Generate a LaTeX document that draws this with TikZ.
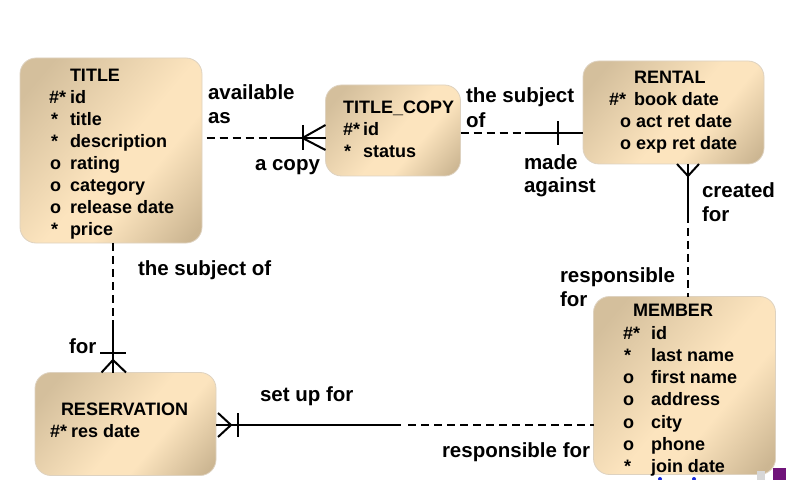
\documentclass[tikz,border=0pt]{standalone}
\usepackage{fontspec}
\setmainfont{Liberation Sans}
\usetikzlibrary{calc,shadings}
\definecolor{tanlight}{RGB}{252,228,190}
\definecolor{tandark}{RGB}{212,191,156}
\definecolor{tandarker}{RGB}{204,182,146}
\definecolor{tanedge}{RGB}{222,210,192}
\definecolor{artpurple}{RGB}{112,20,122}
\definecolor{artgray}{RGB}{215,215,215}
\definecolor{artblue}{RGB}{20,40,220}
\pgfdeclarehorizontalshading{tanband}{100bp}{color(0bp)=(tandark); color(22bp)=(tandark); color(52bp)=(tanlight); color(62bp)=(tanlight); color(82bp)=(tandarker); color(100bp)=(tandarker)}
\begin{document}
\begin{tikzpicture}[x=1bp,y=-1bp,
  entity/.style={draw=tanedge, line width=0.8bp, rounded corners=16bp, anchor=north west,
    inner sep=0pt, outer sep=0pt, shading=tanband, shading angle=-40},
  etext/.style={anchor=base west, inner sep=0pt, outer sep=0pt,
    font=\fontsize{18bp}{22bp}\selectfont\bfseries},
  ltext/.style={anchor=base west, inner sep=0pt, outer sep=0pt,
    font=\fontsize{20.5bp}{25bp}\selectfont\bfseries},
  rel/.style={line width=2bp, black},
  dashrel/.style={line width=2bp, black, dash pattern=on 8bp off 5bp},
]
\useasboundingbox (0,0) rectangle (809,480);

% ---------- entities ----------
\node[entity, minimum width=182bp, minimum height=185bp] (title) at (20,58) {};
\node[entity, minimum width=135bp, minimum height=91bp] (copy) at (325.5,85) {};
\node[entity, minimum width=181bp, minimum height=103bp] (rental) at (583,61) {};
\node[entity, minimum width=182bp, minimum height=178bp] (member) at (593.5,296.5) {};
\node[entity, minimum width=181bp, minimum height=103bp] (resv) at (35,372.5) {};

% TITLE
\node[etext] (tH) at (70,82) {TITLE};
\node[etext] (tS1) at (49,104) {\#*};  \node[etext] (tN1) at (70,104) {id};
\node[etext] (tS2) at (51,126) {*};    \node[etext] (tN2) at (70,126) {title};
\node[etext] (tS3) at (51,148) {*};    \node[etext] (tN3) at (70,148) {description};
\node[etext] (tS4) at (50,170) {o};    \node[etext] (tN4) at (70,170) {rating};
\node[etext] (tS5) at (50,192) {o};    \node[etext] (tN5) at (70,192) {category};
\node[etext] (tS6) at (50,214) {o};    \node[etext] (tN6) at (70,214) {release date};
\node[etext] (tS7) at (51,236) {*};    \node[etext] (tN7) at (70,236) {price};

% TITLE_COPY
\node[etext] (cH) at (343,114) {TITLE\_COPY};
\node[etext] (cS1) at (343,136) {\#*}; \node[etext] (cN1) at (363,136) {id};
\node[etext] (cS2) at (344,158) {*};   \node[etext] (cN2) at (363,158) {status};

% RENTAL
\node[etext] (rH) at (634,84) {RENTAL};
\node[etext] (rS1) at (609,106) {\#*}; \node[etext] (rN1) at (634,106) {book date};
\node[etext] (rS2) at (620,128) {o};   \node[etext] (rN2) at (636,128) {act ret date};
\node[etext] (rS3) at (620,150) {o};   \node[etext] (rN3) at (636,150) {exp ret date};

% MEMBER
\node[etext] (mH) at (633,317) {MEMBER};
\node[etext] (mS1) at (623,339) {\#*}; \node[etext] (mN1) at (651,339) {id};
\node[etext] (mS2) at (624,361) {*};   \node[etext] (mN2) at (651,361) {last name};
\node[etext] (mS3) at (623,383) {o};   \node[etext] (mN3) at (651,383) {first name};
\node[etext] (mS4) at (623,405) {o};   \node[etext] (mN4) at (651,405) {address};
\node[etext] (mS5) at (623,428) {o};   \node[etext] (mN5) at (651,428) {city};
\node[etext] (mS6) at (623,450) {o};   \node[etext] (mN6) at (651,450) {phone};
\node[etext] (mS7) at (624,472) {*};   \node[etext] (mN7) at (651,472) {join date};

% RESERVATION
\node[etext] (vH) at (61,415) {RESERVATION};
\node[etext] (vS1) at (50,437) {\#*};  \node[etext] (vN1) at (71,437) {res date};

% ---------- relationship 1: TITLE -- TITLE_COPY ----------
\coordinate (r1a) at (206.5,138);
\coordinate (r1b) at (270,138);
\coordinate (r1c) at (copy.west |- r1a);
\coordinate (r1bar) at (302.5,138);
\draw[dashrel] (r1a) -- (r1b);
\draw[rel] (r1b) -- (r1c);
\draw[rel] ($(r1bar)+(0,-13)$) -- ($(r1bar)+(0,12)$);
\draw[rel] (copy.west |- 0,125) -- (r1bar) -- (copy.west |- 0,150);
\node[ltext] (l1a) at (208,100) {available};
\node[ltext] (l1b) at (208,124) {as};
\node[ltext] (l1c) at (255,171) {a copy};

% ---------- relationship 2: TITLE_COPY -- RENTAL ----------
\coordinate (r2a) at (copy.east |- 0,133);
\coordinate (r2b) at (525,133);
\coordinate (r2c) at (rental.west |- r2a);
\coordinate (r2bar) at (558,133);
\draw[dashrel] (r2a) -- (r2b);
\draw[rel] (r2b) -- (r2c);
\draw[rel] ($(r2bar)+(0,-11.5)$) -- ($(r2bar)+(0,12)$);
\node[ltext] (l2a) at (466,103) {the subject};
\node[ltext] (l2b) at (466,128) {of};
\node[ltext] (l2c) at (524,170) {made};
\node[ltext] (l2d) at (524,193) {against};

% ---------- relationship 3: RENTAL -- MEMBER ----------
\coordinate (r3a) at (688,164);
\coordinate (r3b) at (688,215);
\coordinate (r3c) at (member.north -| r3a);
\coordinate (r3crow) at (688,176);
\draw[rel] (r3a) -- (r3b);
\draw[dashrel] (r3b) -- (r3c);
\draw[rel] (677,164) -- (r3crow) -- (699,164);
\node[ltext] (l3a) at (702,198) {created};
\node[ltext] (l3b) at (702,222) {for};
\node[ltext] (l3c) at (560,283) {responsible};
\node[ltext] (l3d) at (560,307) {for};

% ---------- relationship 4: TITLE -- RESERVATION ----------
\coordinate (r4a) at (113,243);
\coordinate (r4b) at (113,320);
\coordinate (r4c) at (resv.north -| r4a);
\coordinate (r4bar) at (113,353);
\coordinate (r4crow) at (113,360);
\draw[dashrel] (r4a) -- (r4b);
\draw[rel] (r4b) -- (r4c);
\draw[rel] ($(r4bar)+(-13,0)$) -- ($(r4bar)+(13,0)$);
\draw[rel] (101.5,372.5) -- (r4crow) -- (126,372.5);
\node[ltext] (l4a) at (138,276) {the subject of};
\node[ltext] (l4b) at (69,353) {for};

% ---------- relationship 5: RESERVATION -- MEMBER ----------
\coordinate (r5a) at (resv.east |- 0,425);
\coordinate (r5b) at (401,425);
\coordinate (r5c) at (member.west |- r5a);
\coordinate (r5bar) at (237.5,425);
\coordinate (r5crow) at (231,425);
\draw[rel] (r5a) -- (r5b);
\draw[dashrel] (408,425) -- (r5c);
\draw[rel] ($(r5bar)+(0,-12)$) -- ($(r5bar)+(0,12)$);
\draw[rel] (218,413) -- (r5crow) -- (218,437);
\node[ltext] (l5a) at (260,401) {set up for};
\node[ltext] (l5b) at (442,457) {responsible for};

% ---------- screen artefacts at the lower right ----------
\fill[artgray] (757,471) rectangle (765,480);
\fill[artpurple] (773,468) rectangle (786,480);
\fill[artblue] (660,479) circle (2);
\fill[artblue] (694,479) circle (2);
\end{tikzpicture}
\end{document}
